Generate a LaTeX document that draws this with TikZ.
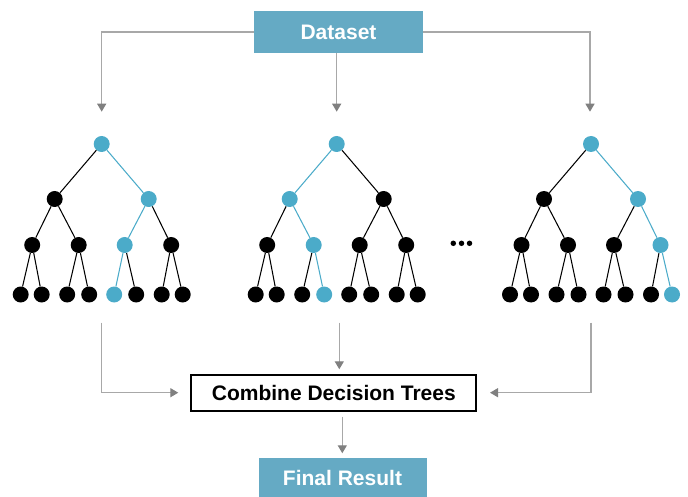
\documentclass[tikz,border=0pt]{standalone}
\usepackage{fontspec}
\setmainfont{Liberation Sans}
\usetikzlibrary{arrows.meta}
\definecolor{boxblue}{HTML}{65AAC4}
\definecolor{nblue}{HTML}{4BABC9}
\definecolor{linegray}{HTML}{A8A8A8}
\definecolor{headgray}{HTML}{808080}
\tikzset{
  dot/.style={circle, inner sep=0pt, minimum size=16pt, fill},
  tinydot/.style={circle, inner sep=0pt, minimum size=5.5pt, fill=black},
  edge/.style={line width=1.05pt},
  conn/.style={draw=linegray, line width=1.35pt, -{Triangle[length=8pt,width=9pt,color=headgray]}},
  bluebox/.style={fill=boxblue, text=white, inner sep=0pt, font=\fontsize{21}{25}\selectfont\bfseries},
  blackbox/.style={draw=black, line width=2pt, fill=white, inner sep=0pt, font=\fontsize{21}{25}\selectfont\bfseries},
}
\begin{document}
\begin{tikzpicture}[x=1pt, y=-1pt]
\useasboundingbox (0,0) rectangle (688,497);

% boxes
\node[bluebox, minimum width=169pt, minimum height=42pt] (ds) at (338.5,32) {Dataset};
\node[blackbox, minimum width=285pt, minimum height=36pt] (cb) at (333.8,393.3) {Combine Decision Trees};
\node[bluebox, minimum width=168pt, minimum height=39pt] (fr) at (342.5,477.8) {Final Result};

% trees
\foreach \t/\cx/\ia/\ib/\ic in {1/101.7/2/3/5, 2/336.7/1/2/4, 3/591/2/4/8} {
  \tikzset{hl-r/.style={nblue},
    hl-a1/.style={}, hl-a2/.style={},
    hl-b1/.style={}, hl-b2/.style={}, hl-b3/.style={}, hl-b4/.style={},
    hl-c1/.style={}, hl-c2/.style={}, hl-c3/.style={}, hl-c4/.style={},
    hl-c5/.style={}, hl-c6/.style={}, hl-c7/.style={}, hl-c8/.style={}}
  \tikzset{hl-a\ia/.style={nblue}, hl-b\ib/.style={nblue}, hl-c\ic/.style={nblue}}
  \node[dot, hl-r] (t\t-r) at (\cx,144) {};
  \foreach \j/\dx in {1/-47, 2/47}
    \node[dot, hl-a\j] (t\t-a\j) at (\cx+\dx,199) {};
  \foreach \j/\dx in {1/-69.5, 2/-23, 3/23, 4/69.5}
    \node[dot, hl-b\j] (t\t-b\j) at (\cx+\dx,245) {};
  \foreach \j/\dx in {1/-81, 2/-60, 3/-34.5, 4/-12.5, 5/12.5, 6/34.5, 7/60, 8/81}
    \node[dot, hl-c\j] (t\t-c\j) at (\cx+\dx,294.5) {};
  % edges
  \foreach \j in {1,2}
    \draw[edge, hl-a\j] (t\t-r) -- (t\t-a\j);
  \foreach \p/\j in {1/1, 1/2, 2/3, 2/4}
    \draw[edge, hl-b\j] (t\t-a\p) -- (t\t-b\j);
  \foreach \p/\j in {1/1, 1/2, 2/3, 2/4, 3/5, 3/6, 4/7, 4/8}
    \draw[edge, hl-c\j] (t\t-b\p) -- (t\t-c\j);
}

% ellipsis
\node[tinydot] (e1) at (453.3,243.3) {};
\node[tinydot] (e2) at (461.5,243.3) {};
\node[tinydot] (e3) at (469.5,243.3) {};

% top connectors
\coordinate (tl) at (101.7,111.7);
\coordinate (tm) at (336.7,111.7);
\coordinate (tr) at (590,111.7);
\draw[conn] (ds.west) -| (tl);
\draw[conn] (ds.east) -| (tr);
\draw[conn] (ds.south -| tm) -- (tm);

% bottom connectors
\coordinate (bl) at (101.7,322.7);
\coordinate (blt) at (178.3,392.7);
\coordinate (bm) at (339.3,322.7);
\coordinate (bmt) at (339.3,369.3);
\coordinate (br) at (591,322.7);
\coordinate (brt) at (490,392.7);
\draw[conn] (bl) |- (blt);
\draw[conn] (bm) -- (bmt);
\draw[conn] (br) |- (brt);

% to final result
\coordinate (fs) at (342.3,416.7);
\coordinate (ft) at (342.3,453.3);
\draw[conn] (fs) -- (ft);
\end{tikzpicture}
\end{document}
